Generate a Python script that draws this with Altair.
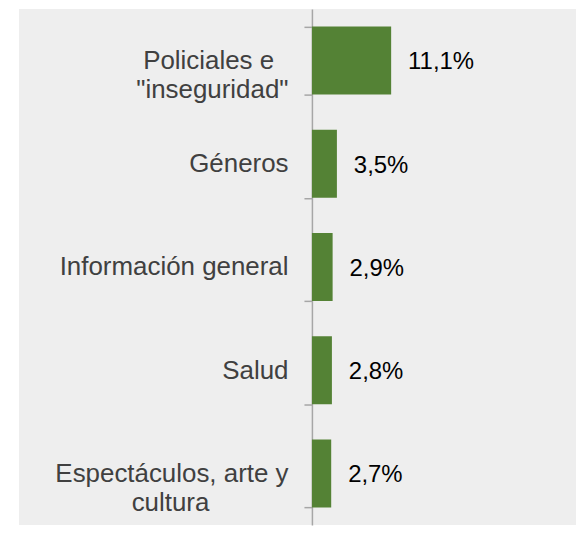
import altair as alt
import pandas as pd

categories = [
    'Policiales e\n"inseguridad"',
    "Géneros",
    "Información general",
    "Salud",
    "Espectáculos, arte y\ncultura",
]
values = [11.1, 3.5, 2.9, 2.8, 2.7]
value_labels = [f"{v:.1f}".replace(".", ",") + "%" for v in values]

# trailing no-break spaces (closed by a zero-width space so they are not trimmed)
# so that the shorter line of a two-line label sits centred under the longer one
NBSP = "\u00a0"
ZWSP = "\u200b"
line_pad = {'Policiales e': 2, "cultura": 11}


def centred(label):
    out = []
    for line in label.split("\n"):
        n = line_pad.get(line, 0)
        out.append(line + (NBSP * n + ZWSP if n else ""))
    return "\n".join(out)


df = pd.DataFrame({"cat": [centred(c) for c in categories], "val": values, "lab": value_labels})

W, H = 559, 518
AXIS_POS = 294

x_scale = alt.Scale(domain=[0, 37], range=[AXIS_POS, W])
y_enc = alt.Y(
    "cat:N",
    sort=None,
    scale=alt.Scale(paddingInner=0.34, paddingOuter=0.17),
    axis=alt.Axis(
        title=None,
        orient="left",
        offset=-AXIS_POS,
        domainColor="#A6A6A6",
        domainWidth=1.5,
        tickColor="#A6A6A6",
        tickWidth=1.5,
        tickSize=8,
        tickBand="extent",
        labelPadding=16,
        labelFont="Liberation Sans",
        labelFontSize=26,
        labelColor="#404040",
        labelLimit=0,
        labelLineHeight=29,
        labelExpr="split(datum.label, '\\n')",
        grid=False,
    ),
)

bars = alt.Chart(df).mark_bar(color="#548235").encode(
    x=alt.X("val:Q", scale=x_scale, axis=None),
    y=y_enc,
)

texts = alt.Chart(df).mark_text(
    align="left",
    baseline="middle",
    dx=17,
    dy=2,
    font="Liberation Sans",
    fontSize=24,
    color="#000000",
).encode(
    x=alt.X("val:Q", scale=x_scale, axis=None),
    y=alt.Y("cat:N", sort=None),
    text="lab:N",
)

chart = (
    alt.layer(bars, texts)
    .properties(
        width=W,
        height=H,
        autosize=alt.AutoSizeParams(type="none"),
        padding={"left": 11, "top": 0, "right": 0, "bottom": 0},
        background="white",
    )
    .configure_view(fill="#EEEEEE", stroke=None)
)

chart.save("out.html", embed_options={"renderer": "svg", "actions": False})
